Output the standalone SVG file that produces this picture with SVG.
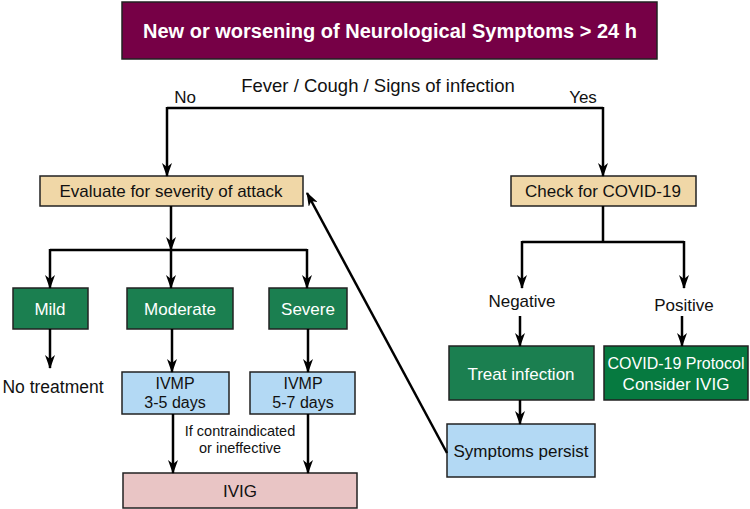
<svg xmlns="http://www.w3.org/2000/svg" width="750" height="509" viewBox="0 0 750 509">
<style>
text{font-family:"Liberation Sans",Arial,sans-serif;text-anchor:middle;}
.b{stroke:#222;stroke-width:1.5;}
.t{font-size:17px;fill:#111;}
.w{font-size:17px;fill:#fff;}
.s{font-size:16px;fill:#111;}
.c{fill:none;stroke:#000;stroke-width:2.5;}
.a{marker-end:url(#ah);}
</style>
<defs>
<marker id="ah" viewBox="0 0 14 10" refX="13" refY="5" markerWidth="14" markerHeight="10" markerUnits="userSpaceOnUse" orient="auto">
<path d="M0,0 L14,5 L0,10 L4,5 Z" fill="#000"/>
</marker>
</defs>
<rect width="750" height="509" fill="#fff"/>
<g id="title">
<rect class="b" x="122" y="2" width="535" height="57" fill="#760046"/>
<text x="390" y="38" style="font-size:20px;font-weight:bold;fill:#fff">New or worsening of Neurological Symptoms &gt; 24 h</text>
</g>
<g id="question">
<text class="t" x="378" y="92" style="font-size:18.5px">Fever / Cough / Signs of infection</text>
<text class="t" x="185" y="103">No</text>
<text class="t" x="583" y="103">Yes</text>
</g>
<g id="evaluate">
<rect class="b" x="40" y="176" width="263" height="30" fill="#f0d7a7"/>
<text class="t" x="171" y="197">Evaluate for severity of attack</text>
</g>
<g id="check">
<rect class="b" x="511" y="176" width="185" height="30" fill="#f0d7a7"/>
<text class="t" x="603" y="197">Check for COVID-19</text>
</g>
<g id="mild">
<rect class="b" x="13" y="288" width="75" height="41" fill="#1b7f50"/>
<text class="w" x="50" y="315">Mild</text>
</g>
<g id="moderate">
<rect class="b" x="127" y="288" width="106" height="41" fill="#1b7f50"/>
<text class="w" x="180" y="315">Moderate</text>
</g>
<g id="severe">
<rect class="b" x="269" y="288" width="78" height="41" fill="#1b7f50"/>
<text class="w" x="308" y="315">Severe</text>
</g>
<g id="notreatment">
<text class="t" x="53" y="393" style="font-size:17.5px">No treatment</text>
</g>
<g id="ivmp1">
<rect class="b" x="122" y="372" width="107" height="42" fill="#b3d9f4"/>
<text class="s" x="175" y="389">IVMP</text>
<text class="s" x="175" y="408">3-5 days</text>
</g>
<g id="ivmp2">
<rect class="b" x="250" y="372" width="105" height="42" fill="#b3d9f4"/>
<text class="s" x="303" y="389">IVMP</text>
<text class="s" x="303" y="408">5-7 days</text>
</g>
<g id="contra">
<text class="t" x="240" y="436" style="font-size:14.5px">If contraindicated</text>
<text class="t" x="240" y="453" style="font-size:14.5px">or ineffective</text>
</g>
<g id="ivig">
<rect class="b" x="123" y="473" width="234" height="35" fill="#e9c5c5"/>
<text class="t" x="240" y="497">IVIG</text>
</g>
<g id="negative">
<text class="t" x="522" y="307">Negative</text>
</g>
<g id="positive">
<text class="t" x="684" y="311">Positive</text>
</g>
<g id="treat">
<rect class="b" x="449" y="346" width="145" height="54" fill="#1b7f50"/>
<text class="w" x="521" y="380">Treat infection</text>
</g>
<g id="protocol">
<rect class="b" x="604" y="346" width="144" height="54" fill="#067a40"/>
<text class="w" x="676" y="369" style="font-size:16px">COVID-19 Protocol</text>
<text class="w" x="676" y="390">Consider IVIG</text>
</g>
<g id="persist">
<rect class="b" x="447" y="424" width="148" height="53" fill="#b3d9f4"/>
<text class="t" x="521" y="457">Symptoms persist</text>
</g>
<g id="connectors">
<path class="c" d="M167,108 H603"/>
<path class="c a" d="M167,107 V176"/>
<path class="c a" d="M603,107 V176"/>
<path class="c a" d="M171,206 V250"/>
<path class="c" d="M50,250 H307"/>
<path class="c a" d="M50,249 V288"/>
<path class="c a" d="M171,249 V288"/>
<path class="c a" d="M307,249 V288"/>
<path class="c a" d="M50,329 V368"/>
<path class="c a" d="M172,329 V372"/>
<path class="c a" d="M308,329 V372"/>
<path class="c a" d="M173,414 V473"/>
<path class="c a" d="M308,414 V473"/>
<path class="c" d="M603,206 V242 M522,242 H684"/>
<path class="c a" d="M522,241 V288"/>
<path class="c a" d="M684,241 V288"/>
<path class="c a" d="M520,316 V346"/>
<path class="c a" d="M682,316 V346"/>
<path class="c a" d="M520,400 V424"/>
<path class="c a" d="M447,453 L307,193"/>
</g>
</svg>
